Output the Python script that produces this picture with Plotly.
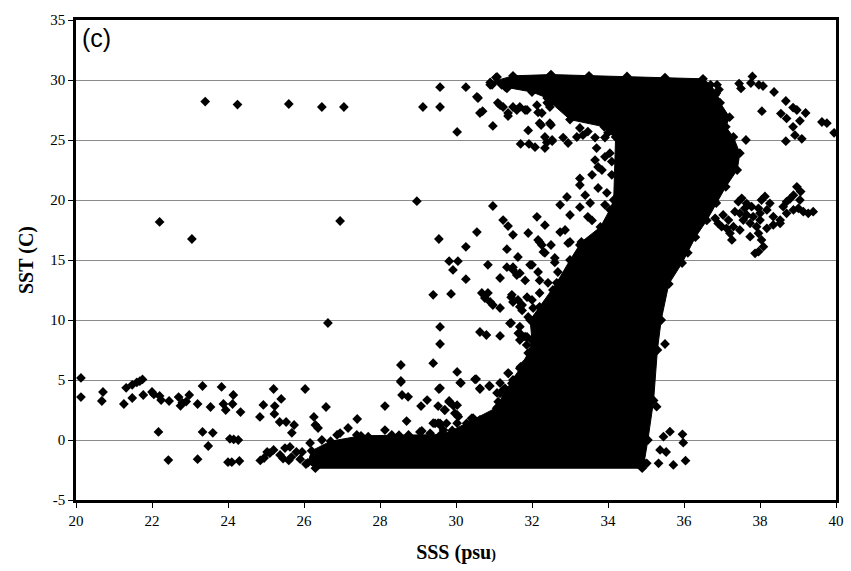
import plotly.graph_objects as go

# Outline of the dense (saturated) cloud of points, in data units (SSS, SST)
blob_sss = [30.9, 31.5, 32.5, 33.5, 34.5, 35.5, 36.5, 36.7, 36.85, 36.95, 37.2, 37.1, 37.3, 37.47,
            37.4, 37.1, 36.85, 36.6, 36.3, 36.1, 35.95, 35.6, 35.4, 35.3, 35.2, 35.05, 34.95, 34.9,
            26.3, 26.1, 26.2, 26.7, 27.5, 28.5, 29.6, 29.9, 30.45, 31.1, 31.25, 31.5, 31.7, 31.9,
            32.0, 31.95, 32.2, 32.65, 33.0, 33.3, 33.8, 34.05, 34.15, 34.2, 34.0, 33.9, 33.0, 32.5,
            32.4, 32.0, 31.3]
blob_sst = [29.8, 30.35, 30.45, 30.35, 30.3, 30.2, 30.1, 29.6, 28.9, 28.1, 26.9, 26.1, 25.25, 23.9,
            22.5, 21.1, 19.75, 18.3, 16.9, 15.6, 14.75, 13.0, 10.0, 7.5, 3.3, 0.0, -1.9, -2.35,
            -2.35, -1.9, -0.9, -0.1, 0.35, 0.4, 0.45, 0.8, 1.67, 2.75, 3.9, 5.0, 6.1, 7.25,
            8.3, 10.0, 11.1, 13.1, 15.0, 16.5, 17.75, 19.2, 20.0, 25.25, 25.6, 26.1, 26.7, 28.1,
            28.5, 29.0, 29.4]

# Individual observations outside the saturated cloud
pts = [
    # low salinity, cold
    (20.13, 5.17), (20.13, 3.58), (20.68, 3.25), (20.71, 4.0), (21.26, 3.0), (21.32, 4.35),
    (21.48, 3.5), (21.48, 4.6), (21.6, 4.8), (21.68, 4.9), (21.75, 5.05), (21.77, 3.75),
    (22.0, 4.0), (22.05, 3.8), (22.2, 3.67), (22.24, 3.33), (22.17, 0.67), (22.45, 3.25),
    (22.43, -1.67), (22.7, 3.58), (22.8, 3.1), (22.75, 2.85), (22.9, 3.2), (22.98, 3.75),
    (23.2, 3.0), (23.2, -1.6), (23.33, 4.5), (23.33, 0.67), (23.48, -0.5), (23.54, 2.75),
    (23.6, 0.6), (23.83, 4.42), (23.88, 3.0), (23.94, 2.5), (24.14, 3.75), (24.12, 3.0),
    (24.33, 2.33), (24.05, 0.1), (24.15, 0.05), (24.27, 0.0), (24.0, -1.85), (24.1, -1.85),
    (24.3, -1.75), (24.84, 1.92), (24.93, 2.92), (24.85, -1.7), (24.95, -1.5), (25.2, 4.25),
    (25.23, 2.83), (25.22, 2.17), (25.4, 3.42), (25.36, 1.5), (25.53, 1.5), (25.68, 0.6),
    (25.74, 1.25), (25.03, -1.0), (25.2, -0.83), (25.37, -1.25), (25.5, -0.67), (25.63, -0.58),
    (25.67, -1.42), (25.8, -1.0), (25.95, -1.0), (26.16, -0.25), (26.47, 0.0), (26.87, 0.42),
    (26.95, 0.58), (25.1, -1.1), (25.45, -1.55), (25.6, -1.7), (25.9, -1.6), (26.05, -2.0),
    (26.03, 4.25), (26.26, 1.92), (26.3, 1.25), (26.37, 1.0), (26.58, 2.75), (27.16, 1.0),
    (27.4, 1.75), (28.13, 2.83), (28.13, 0.83), (28.55, 4.83), (28.58, 3.75), (28.74, 3.6),
    (28.7, 1.58), (29.08, 2.83), (29.24, 3.33), (29.1, 0.75), (29.55, 4.25), (29.53, 2.83),
    (29.4, 1.4), (29.53, 1.4), (29.7, 2.5), (29.05, 0.67), (28.55, 6.25), (28.55, 4.92),
    (27.39, 0.42), (27.69, 0.28), (28.31, 0.42), (28.75, 0.42), (29.32, 0.56), (29.67, 0.83),
    (29.45, 1.39), (29.58, 1.39),
    # isolated mid values
    (26.63, 9.75), (22.2, 18.17), (23.05, 16.75), (28.97, 19.9), (26.95, 18.25),
    # warm, fresh row
    (23.4, 28.2), (24.25, 27.95), (25.6, 28.0), (26.47, 27.75), (27.05, 27.75), (29.13, 27.75),
    (29.58, 27.75), (29.58, 29.4), (30.26, 29.4), (30.58, 28.5), (30.63, 27.25), (30.7, 27.4),
    (30.03, 25.67), (30.97, 26.17), (31.05, 30.2), (30.9, 29.6), (31.37, 27.0), (31.16, 27.9),
    (31.24, 27.75), (31.5, 27.75), (31.6, 27.5), (31.87, 27.5), (32.16, 27.3), (31.9, 25.8),
    (32.24, 26.25), (32.5, 26.25), (31.7, 24.67), (31.92, 24.67), (32.08, 24.4), (32.34, 25.25),
    (32.34, 24.33), (32.53, 24.9), (31.08, 30.25), (30.95, 29.6), (31.2, 29.6), (31.34, 29.3),
    (30.55, 28.6), (31.1, 28.1), (31.37, 27.25), (31.68, 27.75), (31.82, 27.5), (32.13, 27.9),
    (32.26, 27.25), (32.47, 27.75), (32.4, 28.1), (32.2, 26.4), (32.47, 26.4), (32.39, 24.8),
    (32.53, 25.0), (32.82, 25.2), (32.95, 24.75), (33.18, 25.25), (33.34, 25.4), (33.47, 25.7),
    (33.26, 26.0), (33.66, 25.2), (33.92, 25.2), (33.7, 24.33), (33.66, 23.33), (33.92, 23.6),
    (34.05, 23.9), (34.1, 23.2), (33.74, 22.75), (33.84, 22.5), (34.1, 22.1), (33.58, 22.1),
    (33.26, 21.8), (33.26, 21.25), (33.74, 21.0), (33.97, 20.6), (33.4, 20.4), (32.92, 20.25),
    (32.74, 19.6), (33.26, 19.4), (33.53, 19.75), (33.0, 18.75), (33.47, 18.6), (33.58, 18.3),
    (33.92, 19.6), (31.24, 18.33), (31.37, 17.83), (31.5, 17.1), (32.13, 18.6), (32.34, 17.9),
    (32.16, 16.67), (32.26, 16.25), (31.9, 17.25), (32.74, 17.33), (32.87, 17.5), (33.0, 16.5),
    (33.26, 16.25), (30.97, 19.5), (30.55, 17.33), (29.55, 16.75), (30.26, 16.1), (31.34, 15.9),
    (32.3, 15.67), (32.5, 16.25), (31.63, 15.25), (29.82, 14.9), (30.05, 14.9), (30.84, 14.6),
    (31.34, 14.4), (31.5, 14.4),
    # intermediate waters left of the cloud
    (29.92, 14.17), (30.26, 13.4), (29.4, 12.1), (29.87, 12.17), (29.4, 6.4), (29.58, 9.42),
    (29.58, 8.0), (29.58, 4.33), (29.82, 3.17), (30.03, 2.9), (30.03, 2.1), (30.03, 1.4),
    (30.03, 5.67), (30.13, 4.75), (30.53, 5.08), (30.63, 4.25), (30.87, 4.5), (30.63, 9.0),
    (30.8, 8.75), (31.16, 8.67), (31.37, 5.58), (31.16, 11.0), (30.68, 12.25), (30.76, 11.83),
    (30.84, 12.25), (30.9, 11.5), (30.97, 11.25), (31.16, 13.5), (31.5, 14.17), (31.6, 13.75),
    (31.68, 13.9), (31.82, 13.3), (31.45, 11.9), (31.5, 11.5), (31.63, 11.67), (31.68, 11.1),
    (31.45, 9.75), (31.68, 8.9), (31.87, 8.6), (32.0, 14.6), (32.16, 14.0), (32.34, 15.6),
    (32.6, 14.8), (31.16, 4.75), (31.24, 4.17), (31.08, 3.92), (30.45, 1.83), (30.63, 1.67),
    (30.9, 1.92), (32.2, 16.5), (32.95, 16.4), (32.6, 15.17), (32.68, 14.0), (31.95, 14.6),
    (32.2, 13.3), (32.42, 13.1), (32.55, 12.5), (31.47, 12.1), (31.74, 11.25), (31.87, 11.9),
    (32.0, 11.67), (32.2, 12.25), (32.03, 11.0), (31.74, 10.8), (31.9, 10.25),
    (29.82, 3.25), (29.93, 2.86), (29.71, 2.5), (29.97, 2.22), (29.75, 1.39), (30.06, 1.94),
    (29.58, 1.25), (30.41, 1.81), (30.54, 1.53), (30.28, 1.39), (30.68, 1.25), (30.81, 1.67),
    (30.98, 1.25), (31.07, 2.64), (31.24, 2.78), (31.11, 3.19), (31.16, 3.89), (31.29, 4.31),
    (31.47, 4.72), (31.64, 5.28), (31.77, 5.69), (31.82, 6.39), (31.68, 5.97), (31.38, 5.56),
    (30.89, 4.5), (30.63, 4.31), (30.11, 4.78), (30.5, 5.06), (31.42, 9.72), (31.68, 9.44),
    (31.64, 8.89), (31.82, 8.61), (31.68, 8.33), (31.86, 7.92), (30.18, 0.83), (30.37, 1.08),
    # high salinity, warm
    (36.87, 29.6), (36.92, 29.2), (36.82, 28.75), (36.87, 28.3), (37.45, 29.7), (37.5, 29.3),
    (37.8, 30.3), (37.76, 29.75), (37.97, 29.6), (38.08, 29.5), (38.37, 29.0), (38.68, 28.25),
    (38.87, 27.7), (38.97, 27.5), (39.2, 27.25), (38.05, 27.4), (38.55, 27.2), (38.7, 26.8),
    (39.05, 26.6), (38.87, 26.1), (38.92, 25.4), (39.1, 25.1), (38.68, 24.9), (39.63, 26.5),
    (39.76, 26.4), (39.95, 25.6), (37.63, 25.0),
    # Mediterranean-like cluster
    (38.97, 21.1), (39.07, 20.7), (38.88, 20.4), (38.79, 20.1), (38.7, 19.86), (38.13, 20.3),
    (38.04, 20.0), (37.52, 20.14), (37.43, 19.86), (37.65, 19.7), (37.78, 19.44), (37.03, 18.75),
    (36.82, 18.47), (36.9, 18.05), (36.99, 17.78), (37.12, 17.64), (37.21, 17.22), (37.26, 16.67),
    (37.17, 18.33), (37.34, 19.03), (37.47, 18.89), (37.65, 18.75), (37.82, 18.61), (38.0, 18.89),
    (38.18, 19.17), (38.35, 18.61), (38.53, 18.33), (38.7, 18.89), (38.88, 19.17), (39.01, 19.31),
    (39.14, 19.03), (39.27, 18.89), (39.4, 19.03), (37.96, 17.22), (38.04, 16.67), (38.09, 16.11),
    (37.96, 15.69), (37.87, 15.56), (37.56, 18.33), (37.74, 18.06), (37.91, 17.78), (38.18, 17.64),
    (38.35, 17.92), (38.53, 18.06), (39.05, 20.0), (38.61, 19.44), (38.26, 19.72), (37.96, 19.31),
    (37.6, 19.31), (37.3, 17.78), (37.47, 17.5), (38.0, 18.33), (37.74, 16.94),
    # cold, salty edge
    (35.63, 0.69), (35.46, 0.28), (35.96, 0.47), (35.98, -0.22), (35.37, -0.83), (35.53, -1.0),
    (35.02, -1.94), (35.33, -1.94), (35.72, -2.08), (36.04, -1.72), (35.28, 2.78), (35.5, 8.0),
]
sss = [p[0] for p in pts]
sst = [p[1] for p in pts]

x_ticks = [20, 22, 24, 26, 28, 30, 32, 34, 36, 38, 40]
y_ticks = [-5, 0, 5, 10, 15, 20, 25, 30, 35]

serif = "Liberation Serif, Times New Roman, serif"

fig = go.Figure()
fig.add_trace(go.Scatter(
    x=blob_sss, y=blob_sst, mode="lines+markers", fill="toself",
    fillcolor="black", line=dict(color="black", width=1),
    marker=dict(symbol="diamond", size=7.5, color="black"),
    hoverinfo="skip", showlegend=False,
))
fig.add_trace(go.Scatter(
    x=sss, y=sst, mode="markers",
    marker=dict(symbol="diamond", size=7.5, color="black", line=dict(width=0)),
    showlegend=False,
))

fig.update_layout(
    width=851, height=571,
    margin=dict(l=76, r=15, t=20, b=71, autoexpand=False),
    paper_bgcolor="white", plot_bgcolor="white",
    font=dict(family=serif, color="black"),
    xaxis=dict(
        range=[20, 40], tickvals=x_ticks, ticktext=[str(v) for v in x_ticks],
        ticks="outside", ticklen=5, tickwidth=1, tickcolor="black",
        showline=True, linewidth=2.5, linecolor="black", mirror=True,
        showgrid=False, zeroline=False, automargin=False,
        tickfont=dict(family=serif, size=15, color="black"),
        title=dict(text="<b>SSS (psu</b><span style='font-size:14px'><b>)</b></span>",
                   font=dict(family=serif, size=20, color="black"), standoff=18),
    ),
    yaxis=dict(
        range=[-5, 35], tickvals=y_ticks, ticktext=[str(v) for v in y_ticks],
        ticks="outside", ticklen=5, tickwidth=1, tickcolor="black",
        showline=True, linewidth=2.5, linecolor="black", mirror=True,
        showgrid=True, gridcolor="#8a8a8a", gridwidth=1, zeroline=False, automargin=False,
        tickfont=dict(family=serif, size=15, color="black"),
        title=dict(text="<b>SST (C)</b>",
                   font=dict(family=serif, size=20, color="black"), standoff=12),
    ),
    annotations=[dict(
        text="(c)", x=0, y=1, xref="paper", yref="paper",
        xanchor="left", yanchor="top", xshift=4, yshift=-2, showarrow=False,
        font=dict(family="Liberation Sans, Arial, sans-serif", size=25, color="black"),
    )],
)

fig.write_html(
    "out.html",
    config={"displayModeBar": False},
    post_script="document.body.style.margin='0';document.body.style.overflow='hidden';",
)
